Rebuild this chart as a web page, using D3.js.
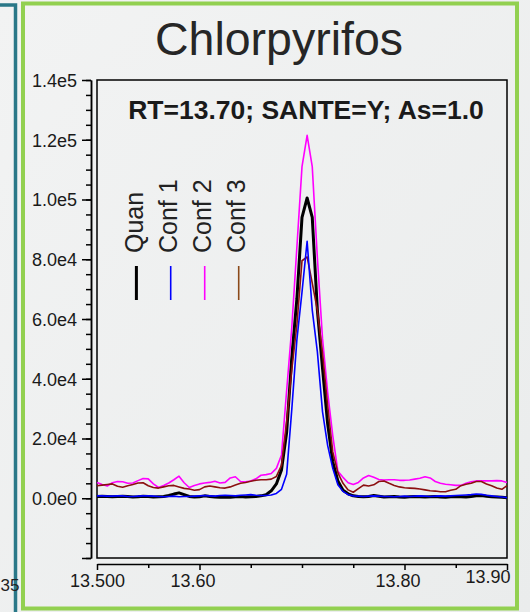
<!DOCTYPE html>
<html><head><meta charset="utf-8">
<script src="https://cdn.jsdelivr.net/npm/d3@7"></script>
<style>
html,body{margin:0;padding:0;background:#eff0f0;}
svg{display:block;font-family:"Liberation Sans",Arial,Helvetica,sans-serif;}
</style>
</head><body>
<svg id="chart" width="530" height="612"></svg>
<script>
// ---- data ----
const times = d3.range(81).map(i => +(13.5 + i * 0.005).toFixed(3)); // scan times (min)
const seriesNames = ["Quan", "Conf 1", "Conf 2", "Conf 3"];
const quan = [
  600,700,600,500,600,700,600,400,500,700,
  600,400,500,600,900,1400,1800,1200,600,400,
  500,800,600,400,300,400,300,500,600,400,
  500,600,800,1200,2500,4800,9500,22000,47000,66700,
  94000,100500,94000,63000,43600,25000,12200,5800,2700,1500,
  800,600,500,600,900,700,400,500,600,400,
  300,500,600,500,400,500,600,400,300,500,
  600,500,400,600,800,900,700,500,400,300,200];
const conf1 = [
  800,800,700,700,800,800,600,600,700,800,
  800,700,600,500,600,700,500,600,600,700,
  800,900,800,700,900,1000,900,800,1000,1100,
  1200,1000,900,900,1100,1600,3000,8000,29600,53000,
  69000,86000,63000,49000,29000,17700,10000,4500,2300,1200,
  800,700,600,700,800,700,600,600,500,600,
  700,600,700,800,700,600,700,800,700,800,
  900,1000,1100,1200,1400,1300,1000,800,600,400,200];
const conf2 = [
  5300,4600,4100,5200,5600,5500,5000,5100,5900,6600,
  6500,4800,3600,4300,5100,6200,7400,5200,3600,4300,
  4800,5100,5300,5700,5100,5300,6800,7200,5600,5500,
  5800,6500,7700,7900,8300,10000,14500,36000,57000,84000,
  111000,121500,111000,80500,53500,35500,21000,9000,7000,5200,
  4600,5300,6800,7600,7000,6300,6100,6200,6200,6000,
  6000,6100,6400,6700,7200,6800,5600,5000,4700,4500,
  4300,4300,5000,5500,5800,5800,5800,5800,5900,5800,5300];
const conf3 = [
  4200,4400,4600,4800,4000,3700,4200,4600,5100,5200,
  4200,3600,3400,3800,4200,4300,3800,3300,3100,2700,
  2900,3800,4100,3800,3500,3400,3800,4400,5000,5300,
  5700,6000,6200,6200,6400,7300,11000,25600,43000,58000,
  79500,80800,72000,63000,48700,31000,15500,8500,5000,2800,
  2000,3200,4400,4100,4500,5600,5800,5000,4300,3800,
  3500,3400,3300,3100,2800,2500,2400,2200,2200,2700,
  3000,4200,4700,5000,5600,5600,4800,4200,3400,3000,4200];
const xTickValues = [13.50,13.55,13.60,13.65,13.70,13.75,13.80,13.85,13.90];
const xTickLabels = ["13.500","","13.60","","","","13.80","","13.90"];
const yMajorValues = [-20000,0,20000,40000,60000,80000,100000,120000,140000];
const yMajorLabels = ["","0.0e0","2.0e4","4.0e4","6.0e4","8.0e4","1.0e5","1.2e5","1.4e5"];
const yMinorValues = d3.range(-20000, 140001, 5000);
const titleText = "Chlorpyrifos";
const subtitleText = "RT=13.70; SANTE=Y; As=1.0";

// ---- styles ----
const lineColors = ["#000000", "#0000ff", "#ff00ff", "#8b1010"];
const legendColors = ["#000000", "#0000ff", "#ff00ff", "#8b4a1a"];
const lineWidths = [3, 1.6, 1.6, 1.6];

const svg = d3.select("#chart");
const W = 530, H = 612;

// background
const defs = svg.append("defs");
const g0 = defs.append("linearGradient").attr("id","bg").attr("x1","0").attr("y1","0").attr("x2","1").attr("y2","1");
g0.append("stop").attr("offset","0").attr("stop-color","#f2f3f3");
g0.append("stop").attr("offset","1").attr("stop-color","#eaecec");
svg.append("rect").attr("width",W).attr("height",H).attr("fill","url(#bg)");

// neighbouring panel remnants
svg.append("path").attr("d","M0,5 H15.5 V612").attr("fill","none").attr("stroke","#2a7888").attr("stroke-width",3.5);
svg.append("text").attr("x",0.5).attr("y",591).attr("text-anchor","start").attr("font-size",17).attr("fill","#222").text("35");

// green panel border
svg.append("rect").attr("x",23).attr("y",3.5).attr("width",494).attr("height",605).attr("fill","none")
  .attr("stroke","#92d050").attr("stroke-width",4);

// scales
const plot = {left:97, right:507, top:80, bottom:558};
const x = d3.scaleLinear().domain([13.5, 13.9]).range([plot.left, plot.right]);
const y = d3.scaleLinear().domain([-20000, 140000]).range([plot.bottom, plot.top]);

// title
svg.append("text").attr("x",279).attr("y",55).attr("text-anchor","middle")
  .attr("font-size",46.5).attr("fill","#262626").text(titleText);

// frame
svg.append("rect").attr("x",plot.left).attr("y",plot.top)
  .attr("width",plot.right-plot.left).attr("height",plot.bottom-plot.top)
  .attr("fill","none").attr("stroke","#000").attr("stroke-width",1.5);

// y axis (offset)
const yAxisX = 91;
const yMinor = svg.append("g").attr("transform",`translate(${yAxisX},0)`)
  .call(d3.axisLeft(y).tickValues(yMinorValues).tickSize(5).tickSizeOuter(0).tickFormat(""));
const yMajor = svg.append("g").attr("transform",`translate(${yAxisX},0)`)
  .call(d3.axisLeft(y).tickValues(yMajorValues).tickSize(9).tickSizeOuter(0)
    .tickFormat((d,i) => yMajorLabels[i]));
[yMinor, yMajor].forEach(g => {
  g.selectAll("path,line").attr("stroke","#000").attr("stroke-width",1.5);
});
yMajor.selectAll("text").attr("font-size",18).attr("fill","#1a1a1a")
  .attr("font-family","Liberation Sans, Arial, sans-serif")
  .attr("x",-14).attr("dy","0.36em");

// x axis (offset)
const xAxisY = 564;
const xAx = svg.append("g").attr("transform",`translate(0,${xAxisY})`)
  .call(d3.axisBottom(x).tickValues(xTickValues).tickSizeOuter(0)
    .tickFormat((d,i) => xTickLabels[i]));
xAx.selectAll("path,line").attr("stroke","#000").attr("stroke-width",1.5);
xAx.selectAll(".tick line").attr("y2",(d,i) => xTickLabels[i] ? 6 : 4);
const xLabelShift = {"13.500":0, "13.60":-7, "13.80":-7, "13.90":3};
xAx.selectAll("text").attr("font-size",18).attr("fill","#1a1a1a")
  .attr("font-family","Liberation Sans, Arial, sans-serif")
  .attr("dy",null)
  .attr("y",(d,i) => xTickLabels[i] === "13.90" ? 19 : 23)
  .attr("x",(d,i) => xLabelShift[xTickLabels[i]] || 0)
  .attr("text-anchor",(d,i) => xTickLabels[i] === "13.90" ? "end" : "middle");

// subtitle
svg.append("text").attr("x",306).attr("y",119).attr("text-anchor","middle")
  .attr("font-size",26.5).attr("font-weight","bold").attr("fill","#1a1a1a").text(subtitleText);

// traces
const allSeries = [quan, conf1, conf2, conf3];
const line = d3.line().x((d,i) => x(times[i])).y(d => y(d)).curve(d3.curveLinear);
const drawOrder = [0, 2, 3, 1];
drawOrder.forEach(k => {
  svg.append("path").datum(allSeries[k]).attr("d", line)
    .attr("fill","none").attr("stroke",lineColors[k]).attr("stroke-width",lineWidths[k])
    .attr("stroke-linejoin","round");
});

// legend (rotated)
const legendBase = [142.7, 177, 211, 245];
const leg = svg.append("g");
seriesNames.forEach((name, k) => {
  leg.append("text").attr("transform",`translate(${legendBase[k]},253) rotate(-90)`)
    .attr("font-size",25).attr("fill","#222").text(name);
  leg.append("line").attr("x1",legendBase[k]-6.3).attr("x2",legendBase[k]-6.3)
    .attr("y1",266).attr("y2",300)
    .attr("stroke",legendColors[k]).attr("stroke-width",k===0?3:1.6);
});
</script>
</body></html>
